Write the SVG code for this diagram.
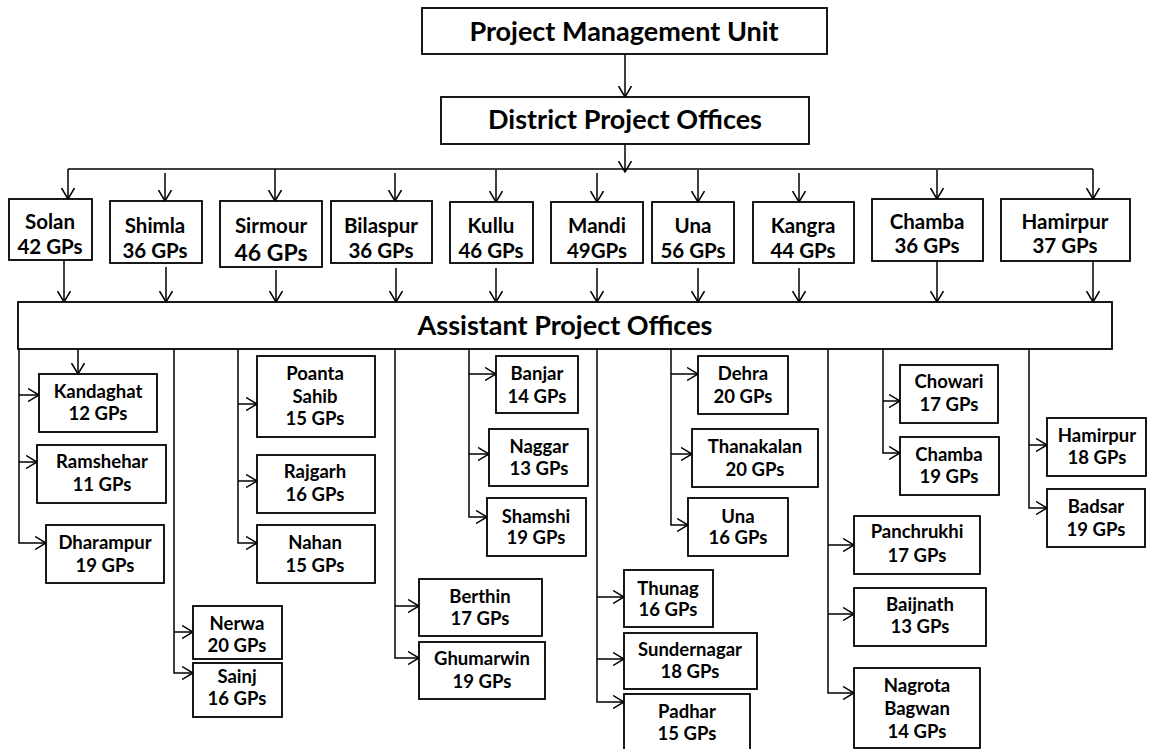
<svg xmlns="http://www.w3.org/2000/svg" width="1150" height="749" viewBox="0 0 1150 749">
  <style>
    .box { fill: #fff; stroke: #000; stroke-width: 1.8; }
    .ln { fill: none; stroke: #000; stroke-width: 1.5; }
    text { font-family: Lato, "Open Sans", sans-serif; font-weight: bold; fill: #000; text-anchor: middle; }
    .h { font-size: 27px; }
    .d { font-size: 20.5px; }
    .dl { font-size: 23px; }
    .s { font-size: 18.5px; }
  </style>
  <defs>
    <marker id="arr" viewBox="0 0 12 14" refX="11.5" refY="7" markerWidth="12" markerHeight="14" markerUnits="userSpaceOnUse" orient="auto">
      <path d="M0.5,0.5 L11.5,7 L0.5,13.5" fill="none" stroke="#000" stroke-width="1.5"/>
    </marker>
  </defs>

  <rect width="1150" height="749" fill="#fff"/>

  <!-- connectors -->
  <g id="connectors" class="ln" marker-end="url(#arr)">
    <path d="M625,54 V97"/>
    <path d="M625,144 V172"/>
    <path d="M68,169 H1093" marker-end="none"/>
    <path d="M68,169 V199"/>
    <path d="M165,173 V201"/>
    <path d="M275,169 V201"/>
    <path d="M395,173 V201"/>
    <path d="M496,170 V202"/>
    <path d="M597,173 V202"/>
    <path d="M698,170 V202"/>
    <path d="M799,173 V202"/>
    <path d="M937,170 V199"/>
    <path d="M1093,169 V199"/>

    <path d="M64,260 V302"/>
    <path d="M166,267 V302"/>
    <path d="M276,270 V302"/>
    <path d="M396,268 V302"/>
    <path d="M496,268 V302"/>
    <path d="M597,268 V302"/>
    <path d="M698,268 V302"/>
    <path d="M799,268 V302"/>
    <path d="M937,261 V302"/>
    <path d="M1093,261 V302"/>

    <!-- Solan -->
    <path d="M19,349 V543 H46"/>
    <path d="M19,395 H39"/>
    <path d="M19,462 H37"/>
    <path d="M78,349 V374"/>
    <!-- Shimla -->
    <path d="M174,349 V673 H193"/>
    <path d="M174,632 H193"/>
    <!-- Sirmour -->
    <path d="M238,349 V543 H257"/>
    <path d="M238,404 H257"/>
    <path d="M238,481 H257"/>
    <!-- Bilaspur -->
    <path d="M395,349 V658 H419"/>
    <path d="M395,606 H419"/>
    <!-- Kullu -->
    <path d="M469,349 V517 H487"/>
    <path d="M469,374 H496"/>
    <path d="M469,454 H489"/>
    <!-- Mandi -->
    <path d="M597,349 V702 H624"/>
    <path d="M597,597 H624"/>
    <path d="M597,659 H624"/>
    <!-- Una -->
    <path d="M671,349 V525 H688"/>
    <path d="M671,374 H698"/>
    <path d="M671,454 H692"/>
    <!-- Kangra -->
    <path d="M828,349 V693 H854"/>
    <path d="M828,545 H854"/>
    <path d="M828,614 H854"/>
    <!-- Chamba -->
    <path d="M883,349 V453 H900"/>
    <path d="M883,401 H900"/>
    <!-- Hamirpur -->
    <path d="M1029,349 V508 H1047"/>
    <path d="M1029,445 H1047"/>
  </g>

  <!-- top levels -->
  <g id="pmu">
    <rect class="box" x="422" y="8" width="405" height="46"/>
    <text class="h" x="624" y="41">Project Management Unit</text>
  </g>
  <g id="dpo">
    <rect class="box" x="441" y="97" width="368" height="47"/>
    <text class="h" x="625" y="129">District Project Offices</text>
  </g>
  <g id="apo">
    <rect class="box" x="18" y="302" width="1094" height="47"/>
    <text class="h" x="565" y="335">Assistant Project Offices</text>
  </g>

  <!-- districts -->
  <g id="d-solan">
    <rect class="box" x="9" y="199" width="83" height="61"/>
    <text class="d" x="50" y="229">Solan</text>
    <text class="d" x="50" y="254">42 GPs</text>
  </g>
  <g id="d-shimla">
    <rect class="box" x="110" y="201" width="92" height="62"/>
    <text class="d" x="155" y="233">Shimla</text>
    <text class="d" x="155" y="258">36 GPs</text>
  </g>
  <g id="d-sirmour">
    <rect class="box" x="220" y="201" width="102" height="66"/>
    <text class="d" x="271" y="233">Sirmour</text>
    <text class="dl" x="271" y="261">46 GPs</text>
  </g>
  <g id="d-bilaspur">
    <rect class="box" x="331" y="201" width="101" height="62"/>
    <text class="d" x="381" y="233">Bilaspur</text>
    <text class="d" x="381" y="258">36 GPs</text>
  </g>
  <g id="d-kullu">
    <rect class="box" x="450" y="202" width="83" height="61"/>
    <text class="d" x="491" y="233">Kullu</text>
    <text class="d" x="491" y="258">46 GPs</text>
  </g>
  <g id="d-mandi">
    <rect class="box" x="551" y="202" width="92" height="61"/>
    <text class="d" x="597" y="233">Mandi</text>
    <text class="d" x="597" y="258">49GPs</text>
  </g>
  <g id="d-una">
    <rect class="box" x="652" y="202" width="82" height="61"/>
    <text class="d" x="693" y="233">Una</text>
    <text class="d" x="693" y="258">56 GPs</text>
  </g>
  <g id="d-kangra">
    <rect class="box" x="753" y="202" width="101" height="61"/>
    <text class="d" x="803" y="233">Kangra</text>
    <text class="d" x="803" y="258">44 GPs</text>
  </g>
  <g id="d-chamba">
    <rect class="box" x="872" y="199" width="111" height="62"/>
    <text class="d" x="927" y="229">Chamba</text>
    <text class="d" x="927" y="253">36 GPs</text>
  </g>
  <g id="d-hamirpur">
    <rect class="box" x="1001" y="199" width="129" height="62"/>
    <text class="d" x="1065" y="229">Hamirpur</text>
    <text class="d" x="1065" y="253">37 GPs</text>
  </g>

  <!-- Solan offices -->
  <g id="kandaghat">
    <rect class="box" x="39" y="374" width="118" height="58"/>
    <text class="s" x="98" y="398">Kandaghat</text>
    <text class="s" x="98" y="420">12 GPs</text>
  </g>
  <g id="ramshehar">
    <rect class="box" x="37" y="445" width="129" height="58"/>
    <text class="s" x="102" y="468">Ramshehar</text>
    <text class="s" x="102" y="491">11 GPs</text>
  </g>
  <g id="dharampur">
    <rect class="box" x="46" y="525" width="118" height="58"/>
    <text class="s" x="105" y="549">Dharampur</text>
    <text class="s" x="105" y="572">19 GPs</text>
  </g>

  <!-- Shimla offices -->
  <g id="nerwa">
    <rect class="box" x="193" y="606" width="89" height="53"/>
    <text class="s" x="237" y="630">Nerwa</text>
    <text class="s" x="237" y="652">20 GPs</text>
  </g>
  <g id="sainj">
    <rect class="box" x="193" y="663" width="89" height="54"/>
    <text class="s" x="237" y="683">Sainj</text>
    <text class="s" x="237" y="705">16 GPs</text>
  </g>

  <!-- Sirmour offices -->
  <g id="poanta-sahib">
    <rect class="box" x="257" y="356" width="118" height="81"/>
    <text class="s" x="315" y="380">Poanta</text>
    <text class="s" x="315" y="403">Sahib</text>
    <text class="s" x="315" y="425">15 GPs</text>
  </g>
  <g id="rajgarh">
    <rect class="box" x="257" y="455" width="118" height="58"/>
    <text class="s" x="315" y="478">Rajgarh</text>
    <text class="s" x="315" y="501">16 GPs</text>
  </g>
  <g id="nahan">
    <rect class="box" x="257" y="525" width="118" height="58"/>
    <text class="s" x="315" y="549">Nahan</text>
    <text class="s" x="315" y="572">15 GPs</text>
  </g>

  <!-- Bilaspur offices -->
  <g id="berthin">
    <rect class="box" x="419" y="579" width="123" height="57"/>
    <text class="s" x="480" y="603">Berthin</text>
    <text class="s" x="480" y="625">17 GPs</text>
  </g>
  <g id="ghumarwin">
    <rect class="box" x="419" y="642" width="126" height="57"/>
    <text class="s" x="482" y="665">Ghumarwin</text>
    <text class="s" x="482" y="688">19 GPs</text>
  </g>

  <!-- Kullu offices -->
  <g id="banjar">
    <rect class="box" x="496" y="356" width="82" height="57"/>
    <text class="s" x="537" y="380">Banjar</text>
    <text class="s" x="537" y="403">14 GPs</text>
  </g>
  <g id="naggar">
    <rect class="box" x="489" y="429" width="99" height="57"/>
    <text class="s" x="539" y="453">Naggar</text>
    <text class="s" x="539" y="475">13 GPs</text>
  </g>
  <g id="shamshi">
    <rect class="box" x="487" y="498" width="99" height="58"/>
    <text class="s" x="536" y="523">Shamshi</text>
    <text class="s" x="536" y="544">19 GPs</text>
  </g>

  <!-- Mandi offices -->
  <g id="thunag">
    <rect class="box" x="624" y="570" width="89" height="57"/>
    <text class="s" x="668" y="595">Thunag</text>
    <text class="s" x="668" y="616">16 GPs</text>
  </g>
  <g id="sundernagar">
    <rect class="box" x="624" y="633" width="133" height="56"/>
    <text class="s" x="690" y="656">Sundernagar</text>
    <text class="s" x="690" y="678">18 GPs</text>
  </g>
  <g id="padhar">
    <rect class="box" x="624" y="694" width="126" height="60"/>
    <text class="s" x="687" y="718">Padhar</text>
    <text class="s" x="687" y="740">15 GPs</text>
  </g>

  <!-- Una offices -->
  <g id="dehra">
    <rect class="box" x="698" y="356" width="90" height="58"/>
    <text class="s" x="743" y="380">Dehra</text>
    <text class="s" x="743" y="403">20 GPs</text>
  </g>
  <g id="thanakalan">
    <rect class="box" x="692" y="429" width="126" height="58"/>
    <text class="s" x="755" y="453">Thanakalan</text>
    <text class="s" x="755" y="476">20 GPs</text>
  </g>
  <g id="una">
    <rect class="box" x="688" y="498" width="100" height="58"/>
    <text class="s" x="738" y="523">Una</text>
    <text class="s" x="738" y="544">16 GPs</text>
  </g>

  <!-- Kangra offices -->
  <g id="panchrukhi">
    <rect class="box" x="854" y="516" width="126" height="58"/>
    <text class="s" x="917" y="538">Panchrukhi</text>
    <text class="s" x="917" y="562">17 GPs</text>
  </g>
  <g id="baijnath">
    <rect class="box" x="854" y="588" width="132" height="58"/>
    <text class="s" x="920" y="611">Baijnath</text>
    <text class="s" x="920" y="633">13 GPs</text>
  </g>
  <g id="nagrota-bagwan">
    <rect class="box" x="854" y="668" width="126" height="80"/>
    <text class="s" x="917" y="692">Nagrota</text>
    <text class="s" x="917" y="715">Bagwan</text>
    <text class="s" x="917" y="738">14 GPs</text>
  </g>

  <!-- Chamba offices -->
  <g id="chowari">
    <rect class="box" x="900" y="365" width="98" height="58"/>
    <text class="s" x="949" y="388">Chowari</text>
    <text class="s" x="949" y="411">17 GPs</text>
  </g>
  <g id="chamba">
    <rect class="box" x="900" y="437" width="99" height="58"/>
    <text class="s" x="949" y="461">Chamba</text>
    <text class="s" x="949" y="483">19 GPs</text>
  </g>

  <!-- Hamirpur offices -->
  <g id="hamirpur">
    <rect class="box" x="1047" y="418" width="99" height="58"/>
    <text class="s" x="1097" y="442">Hamirpur</text>
    <text class="s" x="1097" y="464">18 GPs</text>
  </g>
  <g id="badsar">
    <rect class="box" x="1047" y="489" width="98" height="58"/>
    <text class="s" x="1096" y="513">Badsar</text>
    <text class="s" x="1096" y="536">19 GPs</text>
  </g>
</svg>
